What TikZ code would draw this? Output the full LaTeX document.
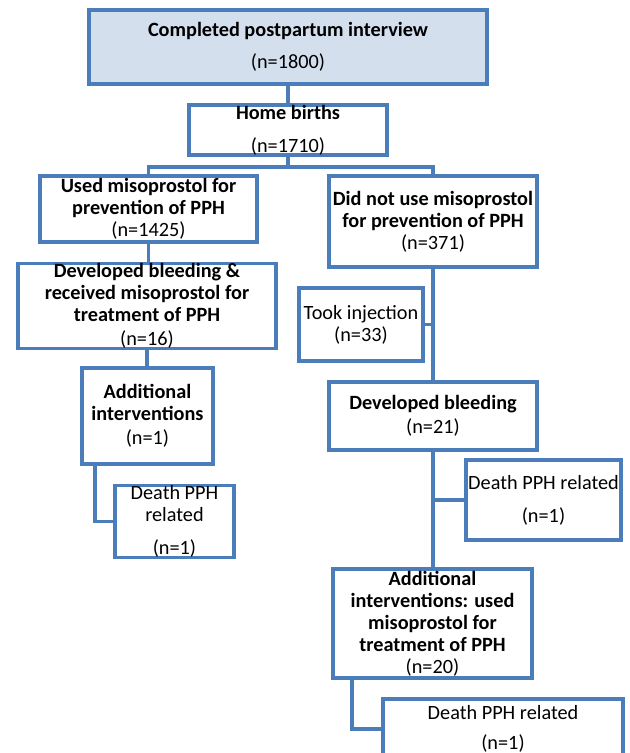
\documentclass[tikz,border=0pt]{standalone}
\usepackage{fontspec}
\setmainfont{Carlito}

\newcommand{\pxu}{0.75pt}
\definecolor{boxline}{HTML}{4A7DBA}
\definecolor{boxfill}{HTML}{D4DFEE}

\begin{document}
\begin{tikzpicture}[x=0.75pt, y=-0.75pt,
        flowbox/.style = {draw=boxline, line width=2.8pt, fill=white, align=center, inner sep=0pt,
            font=\fontsize{15.2}{16.5}\selectfont},
        boxsize/.style 2 args = {minimum width=#1*\pxu, minimum height=#2*\pxu},
        link/.style = {draw=boxline, line width=2.8pt}]
        \useasboundingbox (0,0) rectangle (630,753);

        % boxes
        \node[flowbox, boxsize={398}{74}, fill=boxfill] (top) at (288,47)
            {\textbf{Completed postpartum interview}\\[7.5pt](n=1800)};
        \node[flowbox, boxsize={198}{50}] (home) at (288,130)
            {\textbf{Home births}\\[8.25pt](n=1710)};
        \node[flowbox, boxsize={217}{66}] (used) at (148.5,209)
            {\textbf{Used misoprostol for}\\\textbf{prevention of PPH}\\(n=1425)};
        \node[flowbox, boxsize={208}{91}] (didnot) at (433,221.5)
            {\textbf{Did not use misoprostol}\\\textbf{for prevention of PPH}\\(n=371)};
        \node[flowbox, boxsize={258}{82}] (devrec) at (147,306)
            {\textbf{Developed bleeding \&}\\\textbf{received misoprostol for}\\\textbf{treatment of PPH}\\[1.5pt](n=16)};
        \node[flowbox, boxsize={124}{73}] (took) at (361,324.5)
            {Took injection\\(n=33)};
        \node[flowbox, boxsize={131}{96}] (addl) at (147.5,416)
            {\textbf{Additional}\\\textbf{interventions}\\[1.5pt](n=1)};
        \node[flowbox, boxsize={119}{71}] (deathl) at (174.5,521.5)
            {Death PPH\\related\\[8.25pt](n=1)};
        \node[flowbox, boxsize={208}{68}] (devbl) at (433,416)
            {\textbf{Developed bleeding}\\[1.5pt](n=21)};
        \node[flowbox, boxsize={155}{80}] (deathr) at (543.5,500)
            {Death PPH related\\[8.25pt](n=1)};
        \node[flowbox, boxsize={199}{109}] (addr) at (432.5,623.5)
            {\textbf{Additional}\\\textbf{interventions: used}\\\textbf{misoprostol for}\\\textbf{treatment of PPH}\\(n=20)};
        % runs past the lower edge of the page
        \node[flowbox, boxsize={240}{60}] (deathb) at (503,729)
            {Death PPH related\\[6pt](n=1)};

        % connectors
        \draw[link] (top.south) -- (home.north);
        \draw[link] (home.south) -- ++(0,10) -| (used.north);
        \draw[link] (home.south) -- ++(0,10) -| (didnot.north);
        \draw[link] (used.south) -- (used.south |- devrec.north);
        \draw[link] (devrec.south) -- (devrec.south |- addl.north);
        \draw[link] ([xshift=15*\pxu]addl.south west) |- (deathl.west);
        \draw[link] (didnot.south) -- (devbl.north);
        \draw[link] (took.east) -- (took.east -| didnot.south);
        \draw[link] (devbl.south) -- (devbl.south |- addr.north);
        \draw[link] (deathr.west) -- (deathr.west -| devbl.south);
        \draw[link] ([xshift=21*\pxu]addr.south west) |- (deathb.west);
\end{tikzpicture}
\end{document}
